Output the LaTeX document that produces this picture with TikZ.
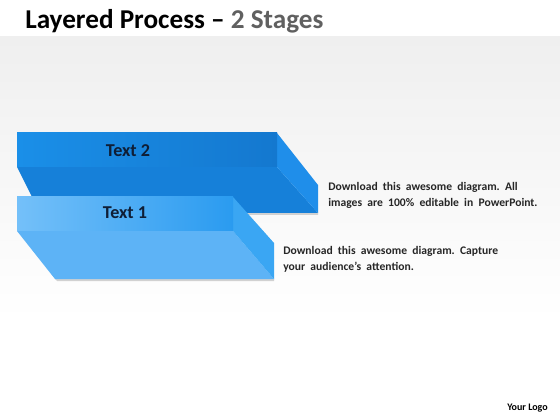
\documentclass[tikz,border=0pt]{standalone}
\usepackage{fontspec}
\setmainfont{Carlito}
\definecolor{bgray}{HTML}{EFEFEF}
\definecolor{navy}{HTML}{0F1E36}
\definecolor{ttop}{HTML}{1A8FE8}
\definecolor{ttopr}{HTML}{1478CF}
\definecolor{tlow}{HTML}{1680D9}
\definecolor{tside}{HTML}{1F8EEA}
\definecolor{otop}{HTML}{74C0F9}
\definecolor{otopr}{HTML}{2A9BF0}
\definecolor{olow}{HTML}{5DB3F6}
\definecolor{oside}{HTML}{3AA6F3}
\definecolor{subgray}{HTML}{606060}
\tikzset{
  face/.style={draw=none},
  label/.style={font=\bfseries\fontsize{13.6}{16}\selectfont, text=navy},
  desc/.style={font=\bfseries\fontsize{8.7}{12}\selectfont, text=black!85, align=left, anchor=north west, inner sep=0pt}
}
\begin{document}
\begin{tikzpicture}[x=0.75pt,y=-0.75pt]
\useasboundingbox (0,0) rectangle (560,420);
\fill[white] (0,0) rectangle (560,420);
\shade[top color=bgray, bottom color=white] (0,37) rectangle (560,320);
% title
\node[anchor=west, inner sep=0pt, font=\bfseries\fontsize{20.4}{24}\selectfont] (title) at (25,21) {Layered Process -- \textcolor{subgray}{2 Stages}};
% shadows
\fill[black!18] (42,213) -- (318,213) -- (318,215) -- (44,215) -- cycle;
\fill[black!18] (55,279) -- (274,279) -- (274,281) -- (57,281) -- cycle;
% layer 2
\fill[tlow] (17,167) -- (277,167) -- (318,213) -- (40,213) -- cycle;
\fill[tside] (277,133) -- (318,185) -- (318,213) -- (277,167) -- cycle;
\shade[left color=ttop, right color=ttopr] (17,133) rectangle (277,167);
\node[label] (t2) at (128,151) {Text 2};
% layer 1
\fill[olow] (17,231) -- (233,231) -- (274,279) -- (55,279) -- cycle;
\fill[oside] (233,197) -- (274,243) -- (274,279) -- (233,231) -- cycle;
\shade[left color=otop, right color=otopr] (17,197) rectangle (233,231);
\node[label] (t1) at (125,213) {Text 1};
% descriptions
\node[desc] (d2) at (328,182) {Download\ \ this\ \ awesome\ \ diagram.\ \ All\\images\ \ are\ \ 100\%\ \ editable\ \ in\ \ PowerPoint.};
\node[desc] (d1) at (283,246.5) {Download\ \ this\ \ awesome\ \ diagram.\ \ Capture\\your\ \ audience's\ \ attention.};
\node[anchor=east, inner sep=0pt, font=\bfseries\fontsize{7.5}{9}\selectfont] (logo) at (548,408) {Your Logo};
\end{tikzpicture}
\end{document}
